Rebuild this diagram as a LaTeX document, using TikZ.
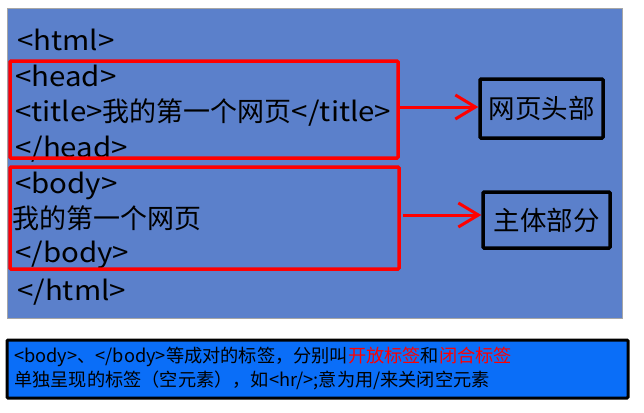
\documentclass[tikz,border=0pt]{standalone}
\usepackage{fontspec}
\setmainfont{Noto Sans CJK SC}
\newfontfamily\latw[FakeStretch=1.09]{Noto Sans CJK SC}
\usetikzlibrary{arrows.meta}
\definecolor{bgblue}{HTML}{5B80CB}
\definecolor{notebl}{HTML}{0A6EF8}
\definecolor{myred}{HTML}{FF0000}
\begin{document}
\begin{tikzpicture}[x=1pt,y=-1pt,
  code/.style={anchor=base west,inner sep=0pt,font=\fontsize{27}{30}\selectfont},
  redbox/.style={draw=myred,line width=3.5pt,rounded corners=1pt},
  blackbox/.style={draw=black,line width=3.5pt,inner sep=0pt,rounded corners=1pt,font=\fontsize{26.5}{30}\selectfont},
  redarrow/.style={draw=myred,line width=3pt,-{Straight Barb[length=20pt,width=24pt,line width=3pt]}},
  note/.style={anchor=base west,inner sep=0pt,font=\fontsize{18.2}{20}\selectfont}]
\useasboundingbox (0,0) rectangle (644,412);
\fill[white] (0,0) rectangle (644,412);
\draw[fill=bgblue,draw=gray!70,line width=0.8pt] (7,8) rectangle (622,318);
\node[code] (l1) at (17,50) {{\latw <html>}};
\node[code] (l2) at (15,86) {{\latw <head>}};
\node[code] (l3) at (15,121) {{\latw <title>}我的第一个网页{\latw </title>}};
\node[code] (l4) at (15,157) {{\latw </head>}};
\node[code] (l5) at (15,193) {{\latw <body>}};
\node[code] (l6) at (12,228) {我的第一个网页};
\node[code] (l7) at (15,262) {{\latw </body>}};
\node[code] (l8) at (17,300) {{\latw </html>}};
\draw[redbox] (10,61) rectangle (398,158);
\draw[redbox] (10,167) rectangle (399,269);
\coordinate (h) at (399,107);
\coordinate (b) at (403,215);
\node[blackbox,minimum width=123pt,minimum height=59pt] (hb) at (541.5,108.5) {网页头部};
\node[blackbox,minimum width=127pt,minimum height=56pt] (bb) at (546.5,220) {主体部分};
\draw[redarrow] (h) -- (hb.west|-h);
\draw[redarrow] (b) -- (bb.west|-b);
\node[draw=black,fill=notebl,line width=3pt,rounded corners=1pt,minimum width=621pt,minimum height=58pt,inner sep=0pt] (nb) at (317.5,369) {};
\node[note] (n1) at (14,362) {<body>、</body>等成对的标签，分别叫\textcolor{myred}{开放标签}和\textcolor{myred}{闭合标签}};
\node[note] (n2) at (14,386) {单独呈现的标签（空元素），如<hr/>;意为用/来关闭空元素};
\end{tikzpicture}
\end{document}
